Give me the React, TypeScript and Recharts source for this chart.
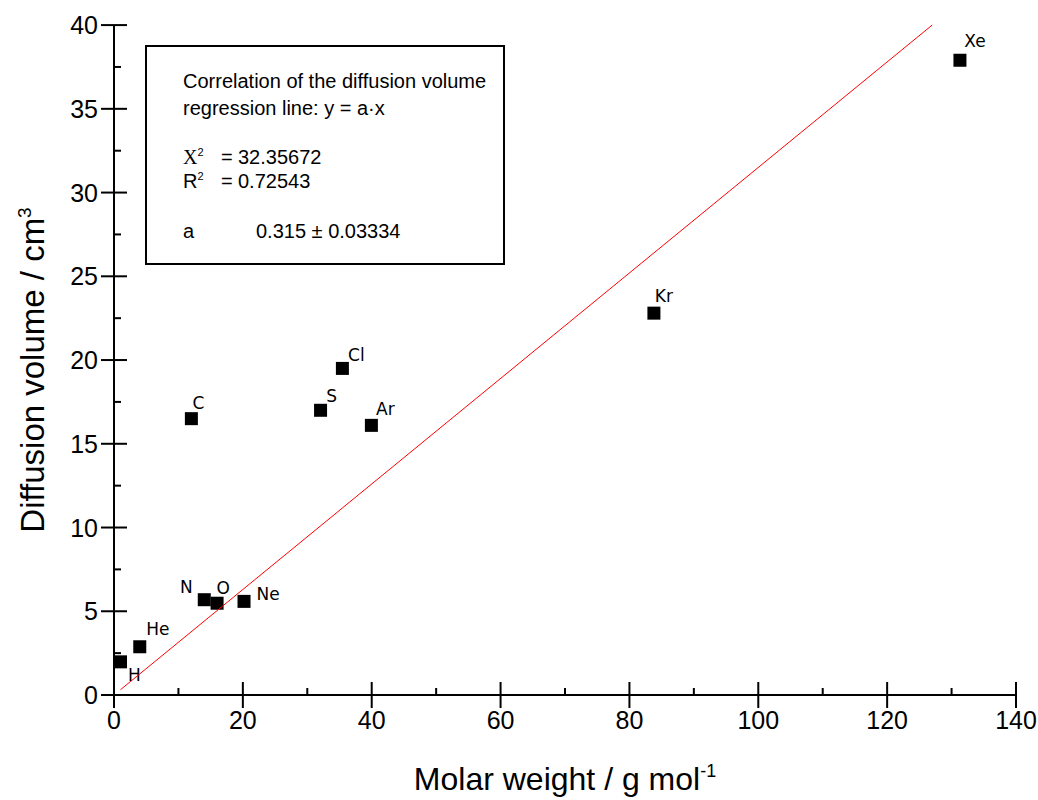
import { ScatterChart, Scatter, XAxis, YAxis } from 'recharts';

// Diffusion volumes (atomic increments) against molar weight
const elements = ['H', 'He', 'C', 'N', 'O', 'Ne', 'S', 'Cl', 'Ar', 'Kr', 'Xe'];
const molarWeight = [1.008, 4.0, 12.01, 14.01, 16.0, 20.18, 32.06, 35.45, 39.95, 83.8, 131.3];
const diffusionVolume = [1.98, 2.88, 16.5, 5.69, 5.48, 5.59, 17.0, 19.5, 16.1, 22.8, 37.9];

// regression y = a·x
const slope = 0.315;
const fitRange = [1, 127];

const xTicks = [0, 10, 20, 30, 40, 50, 60, 70, 80, 90, 100, 110, 120, 130, 140];
const yTicks = [0, 2.5, 5, 7.5, 10, 12.5, 15, 17.5, 20, 22.5, 25, 27.5, 30, 32.5, 35, 37.5, 40];

const points = elements.map((name, i) => ({ name, x: molarWeight[i], y: diffusionVolume[i] }));
const fitLine = fitRange.map((x) => ({ x, y: slope * x }));

// where each element label sits relative to its marker
const labelOffsets: Record<string, [number, number]> = {
  H: [14, 13], He: [18, -18], C: [7, -16], N: [-18, -13], O: [6, -15], Ne: [24, -7],
  S: [11, -14], Cl: [14, -14], Ar: [14, -16], Kr: [10, -17], Xe: [15, -19],
};

const sans = '"Liberation Sans", Arial, Helvetica, sans-serif';
const TICK = 13;
const MINOR = 7;

const BottomTick = ({ x, y, payload }: any) => {
  const major = payload.value % 20 === 0;
  return (
    <g>
      <line x1={x} x2={x} y1={major ? y - TICK : y - MINOR} y2={major ? y + TICK : y} stroke="#000" strokeWidth={2} />
      {major && (
        <text x={x} y={y + 16} dy="0.72em" textAnchor="middle" fontFamily={sans} fontSize={25} fill="#000">
          {payload.value}
        </text>
      )}
    </g>
  );
};

const LeftTick = ({ x, y, payload }: any) => {
  const major = payload.value % 5 === 0;
  return (
    <g>
      <line x1={major ? x - TICK : x} x2={major ? x + TICK : x + MINOR} y1={y} y2={y} stroke="#000" strokeWidth={2} />
      {major && (
        <text x={x - 16} y={y} dy="0.36em" textAnchor="end" fontFamily={sans} fontSize={25} fill="#000">
          {payload.value}
        </text>
      )}
    </g>
  );
};

const TopTick = ({ x, y, payload }: any) => {
  const major = payload.value % 20 === 0;
  return <line x1={x} x2={x} y1={y} y2={y + (major ? TICK : MINOR)} stroke="#000" strokeWidth={2} />;
};

const RightTick = ({ x, y, payload }: any) => {
  const major = payload.value % 5 === 0;
  return <line x1={x - (major ? TICK : MINOR)} x2={x} y1={y} y2={y} stroke="#000" strokeWidth={2} />;
};

const SquareMarker = ({ cx, cy, payload }: any) => {
  const [dx, dy] = labelOffsets[payload.name] || [10, -10];
  return (
    <g>
      <rect x={cx - 6.5} y={cy - 6.5} width={13} height={13} fill="#000" />
      <text x={cx + dx} y={cy + dy} dy="0.36em" textAnchor="middle" fontFamily='"DejaVu Sans", sans-serif' fontSize={17} fill="#000">
        {payload.name}
      </text>
    </g>
  );
};

const XTitle = ({ viewBox }: any) => (
  <text x={viewBox.x + viewBox.width / 2} y={viewBox.y + 95} textAnchor="middle" fontFamily={sans} fontSize={32} fill="#000">
    Molar weight / g mol<tspan dy={-13} fontSize={18}>-1</tspan>
  </text>
);

const YTitle = ({ viewBox }: any) => {
  const cx = 44;
  const cy = viewBox.y + viewBox.height / 2 + 10;
  return (
    <text x={cx} y={cy} transform={`rotate(-90 ${cx} ${cy})`} textAnchor="middle" fontFamily={sans} fontSize={33} fill="#000">
      Diffusion volume / cm<tspan dy={-13} fontSize={19}>3</tspan>
    </text>
  );
};

const row = { position: 'absolute' as const, left: 0, whiteSpace: 'nowrap' as const, lineHeight: '22px' };
const sup = { fontSize: 11, position: 'relative' as const, top: -8 };

function StatsBox() {
  return (
    <div
      style={{
        position: 'absolute', left: 145, top: 45, width: 356, height: 216,
        border: '2px solid #000', background: '#fff', fontFamily: sans, fontSize: 20, color: '#000',
      }}
    >
      <div style={{ position: 'absolute', left: 36, top: 0, width: 320, height: 216 }}>
        <div style={{ ...row, top: 23 }}>Correlation of the diffusion volume</div>
        <div style={{ ...row, top: 50 }}>regression line: y = a·x</div>
        <div style={{ ...row, top: 99 }}>
          <span style={{ fontFamily: '"Liberation Serif", "Times New Roman", serif' }}>X</span>
          <span style={sup}>2</span>
        </div>
        <div style={{ ...row, top: 99, left: 38 }}>=</div>
        <div style={{ ...row, top: 99, left: 55 }}>32.35672</div>
        <div style={{ ...row, top: 123 }}>
          R<span style={sup}>2</span>
        </div>
        <div style={{ ...row, top: 123, left: 38 }}>=</div>
        <div style={{ ...row, top: 123, left: 55 }}>0.72543</div>
        <div style={{ ...row, top: 173 }}>a</div>
        <div style={{ ...row, top: 173, left: 73 }}>0.315 ± 0.03334</div>
      </div>
    </div>
  );
}

export default function App() {
  return (
    <div style={{ position: 'fixed', left: 0, top: 0, width: 1038, height: 800, background: '#fff', overflow: 'hidden' }}>
      <ScatterChart width={1038} height={800} margin={{ top: 25, right: 22, left: 0, bottom: 0 }}>
        <XAxis
          xAxisId="bottom" type="number" dataKey="x" domain={[0, 140]} ticks={xTicks} interval={0}
          height={105} tickSize={0} tickMargin={0} tickLine={false} tick={<BottomTick />}
          axisLine={{ stroke: '#000', strokeWidth: 2 }} label={<XTitle />}
        />
        <XAxis
          xAxisId="top" orientation="top" type="number" dataKey="x" domain={[0, 140]} ticks={xTicks} interval={0}
          height={0} tickSize={0} tickMargin={0} tickLine={false} tick={<TopTick />}
          axisLine={{ stroke: '#000', strokeWidth: 2 }}
        />
        <YAxis
          yAxisId="left" type="number" dataKey="y" domain={[0, 40]} ticks={yTicks} interval={0}
          width={114} tickSize={0} tickMargin={0} tickLine={false} tick={<LeftTick />}
          axisLine={{ stroke: '#000', strokeWidth: 2 }} label={<YTitle />}
        />
        <YAxis
          yAxisId="right" orientation="right" type="number" dataKey="y" domain={[0, 40]} ticks={yTicks} interval={0}
          width={0} tickSize={0} tickMargin={0} tickLine={false} tick={<RightTick />}
          axisLine={{ stroke: '#000', strokeWidth: 2 }}
        />
        <Scatter
          xAxisId="bottom" yAxisId="left" data={points} shape={<SquareMarker />} isAnimationActive={false}
        />
        <Scatter
          xAxisId="bottom" yAxisId="left" data={fitLine} line={{ stroke: '#ff0000', strokeWidth: 1 }}
          shape={() => <g />} isAnimationActive={false}
        />
      </ScatterChart>
      <StatsBox />
    </div>
  );
}
